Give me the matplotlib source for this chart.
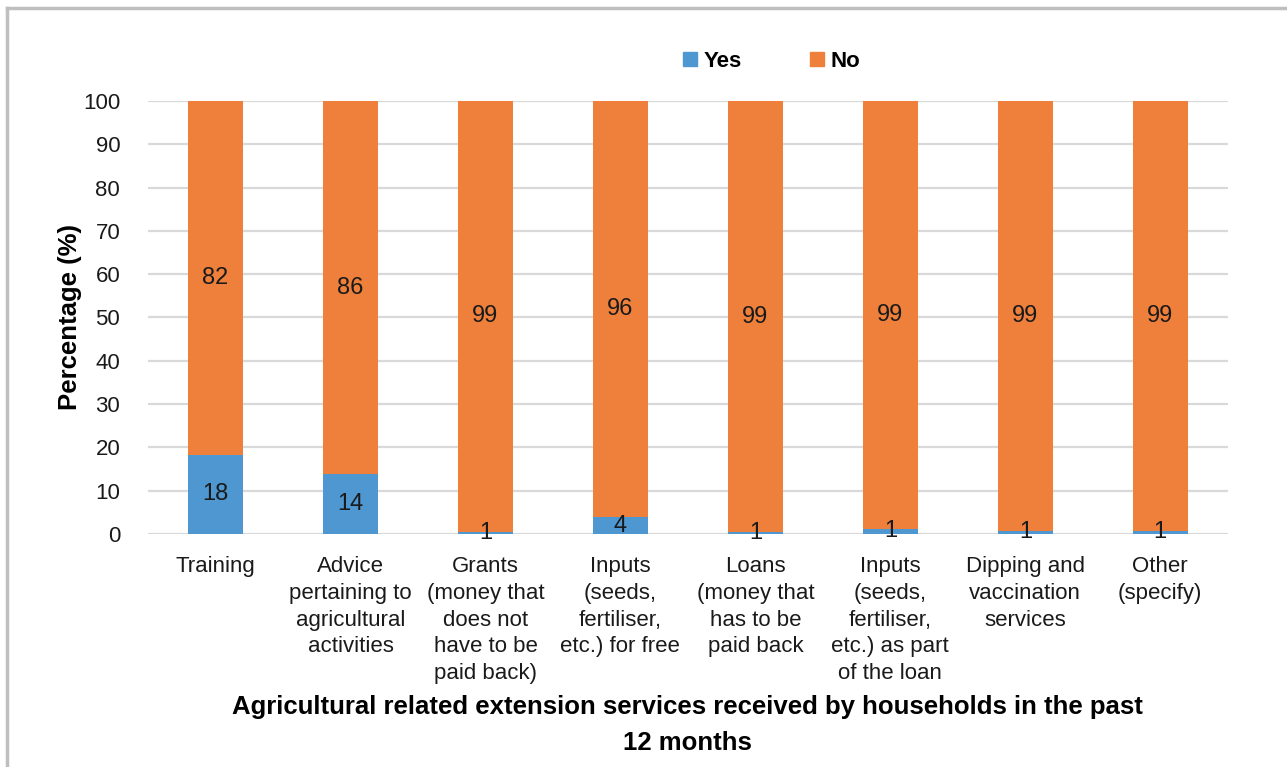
import matplotlib.pyplot as plt
import numpy as np
from matplotlib.lines import Line2D

# --- Data ---
categories = [
    "Training",
    "Advice\npertaining to\nagricultural\nactivities",
    "Grants\n(money that\ndoes not\nhave to be\npaid back)",
    "Inputs\n(seeds,\nfertiliser,\netc.) for free",
    "Loans\n(money that\nhas to be\npaid back",
    "Inputs\n(seeds,\nfertiliser,\netc.) as part\nof the loan",
    "Dipping and\nvaccination\nservices",
    "Other\n(specify)",
]
yes_values = [18.3, 13.8, 0.5, 3.9, 0.4, 1.2, 0.8, 0.7]
no_values = [81.7, 86.2, 99.5, 96.1, 99.6, 98.8, 99.2, 99.3]
yes_labels = ["18", "14", "1", "4", "1", "1", "1", "1"]
no_labels = ["82", "86", "99", "96", "99", "99", "99", "99"]

yes_color = "#4E97D1"
no_color = "#EE803B"

plt.rcParams['font.family'] = ['Liberation Sans', 'DejaVu Sans']

fig = plt.figure(figsize=(12.87, 7.67), dpi=100)
ax = fig.add_axes([0.115, 0.3038, 0.839, 0.5645])

x = np.arange(len(categories))
bar_w = 0.41
ax.bar(x, yes_values, width=bar_w, color=yes_color, zorder=3)
ax.bar(x, no_values, width=bar_w, bottom=yes_values, color=no_color, zorder=3)

# data labels
for i in range(len(categories)):
    ax.text(x[i], yes_values[i] / 2, yes_labels[i], ha='center', va='center',
            fontsize=17, color='#1a1a1a', zorder=4)
    ax.text(x[i], yes_values[i] + no_values[i] / 2, no_labels[i], ha='center',
            va='center', fontsize=17, color='#1a1a1a', zorder=4)

ax.set_xlim(-0.5, len(categories) - 0.5)
ax.set_ylim(0, 100)
ax.set_yticks(np.arange(0, 101, 10))
ax.yaxis.grid(True, color='#D9D9D9', linewidth=1.6, zorder=0)
ax.set_axisbelow(True)
for s in ax.spines.values():
    s.set_visible(False)
ax.tick_params(axis='both', length=0, labelsize=16, colors='#1a1a1a')
ax.tick_params(axis='y', pad=20)
ax.tick_params(axis='x', pad=16)
ax.set_xticks(x)
ax.set_xticklabels(categories, linespacing=1.36)

ax.set_ylabel("Percentage (%)", fontsize=18.5, fontweight='bold')
ax.yaxis.set_label_coords(-0.061, 0.5)
ax.set_xlabel("Agricultural related extension services received by households in the past\n12 months",
              fontsize=18.5, fontweight='bold', labelpad=8, linespacing=1.6)

handles = [
    Line2D([], [], marker='s', linestyle='none', color=yes_color, markersize=10),
    Line2D([], [], marker='s', linestyle='none', color=no_color, markersize=10),
]
fig.legend(handles, ["Yes", "No"], loc='center', bbox_to_anchor=(0.599, 0.920),
           ncol=2, frameon=False, handlelength=0.8, handletextpad=0.2,
           columnspacing=3.0, prop={'weight': 'bold', 'size': 16})

# outer frame (top and left visible)
fig.add_artist(Line2D([0.0055, 1.0], [0.9895, 0.9895], transform=fig.transFigure,
                      color='#BFBFBF', linewidth=2.5))
fig.add_artist(Line2D([0.0055, 0.0055], [0.0, 0.9895], transform=fig.transFigure,
                      color='#BFBFBF', linewidth=2.5))

plt.savefig("out.png", dpi=100)
